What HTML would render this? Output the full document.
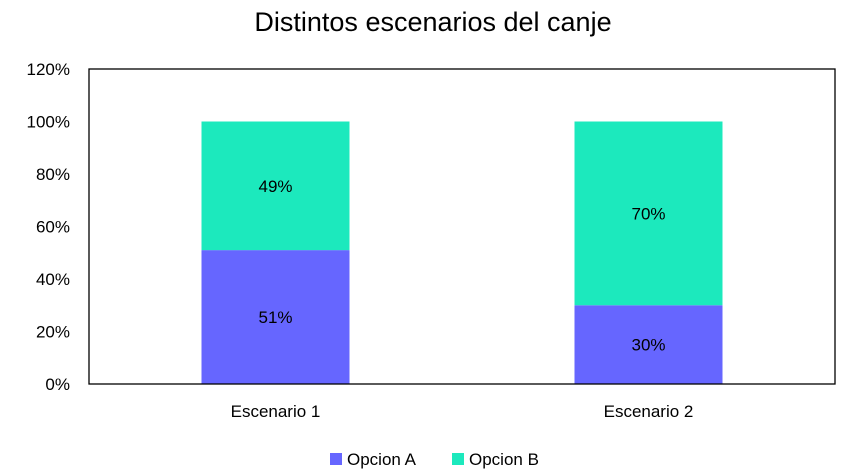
<!DOCTYPE html>
<html><head><meta charset="utf-8"><style>
body{margin:0;background:#fff;}
svg{display:block;font-family:"Liberation Sans",Calibri,sans-serif;}
</style></head><body>
<svg id="c" width="842" height="475">
<text x="433" y="31" text-anchor="middle" font-size="27" fill="#000">Distintos escenarios del canje</text>
<g id="plot"></g>
</svg>
<script>
const categories=["Escenario 1","Escenario 2"];
const seriesA=[51,30];
const seriesB=[49,70];
const ticks=[0,20,40,60,80,100,120];
const NS="http://www.w3.org/2000/svg";
const svg=document.getElementById('plot');
const L=89,R=835,T=69,B=384,MAX=120;
const y=v=>B-(v/MAX)*(B-T);
const band=(R-L)/categories.length;
const bw=148;
function mk(t,a,txt){const e=document.createElementNS(NS,t);for(const k in a)e.setAttribute(k,a[k]);if(txt!==undefined)e.textContent=txt;svg.appendChild(e);return e;}
ticks.forEach(t=>{
 const e=mk('text',{x:70,y:y(t)+6,'text-anchor':'end','font-size':17,fill:'#000'},t+'%');
 
 
});
categories.forEach((c,i)=>{
 const cx=L+band*(i+0.5);
 const a=mk('rect',{x:cx-bw/2,y:y(seriesA[i]),width:bw,height:B-y(seriesA[i]),fill:'#6666ff'});
 
 
 const top=seriesA[i]+seriesB[i];
 const b=mk('rect',{x:cx-bw/2,y:y(top),width:bw,height:y(seriesA[i])-y(top),fill:'#1ce9bd'});
 
 
 const la=mk('text',{x:cx,y:(y(0)+y(seriesA[i]))/2+6,'text-anchor':'middle','font-size':17,fill:'#000'},seriesA[i]+'%');
 
 
 const lb=mk('text',{x:cx,y:(y(seriesA[i])+y(top))/2+6,'text-anchor':'middle','font-size':17,fill:'#000'},seriesB[i]+'%');
 
 
 const xl=mk('text',{x:cx,y:417,'text-anchor':'middle','font-size':17,fill:'#000'},c);
 
 
});
const frame=mk('rect',{x:L,y:T,width:R-L,height:B-T,fill:'none',stroke:'#000','stroke-width':1.3});


const items=[["Opcion A","#6666ff",330],["Opcion B","#1ce9bd",452]];
items.forEach(it=>{
 const s=mk('rect',{x:it[2],y:453,width:12,height:12,fill:it[1]});
 
 
 const t=mk('text',{x:it[2]+17,y:465,'font-size':17,fill:'#000'},it[0]);
 
 
});
</script>
</body></html>
